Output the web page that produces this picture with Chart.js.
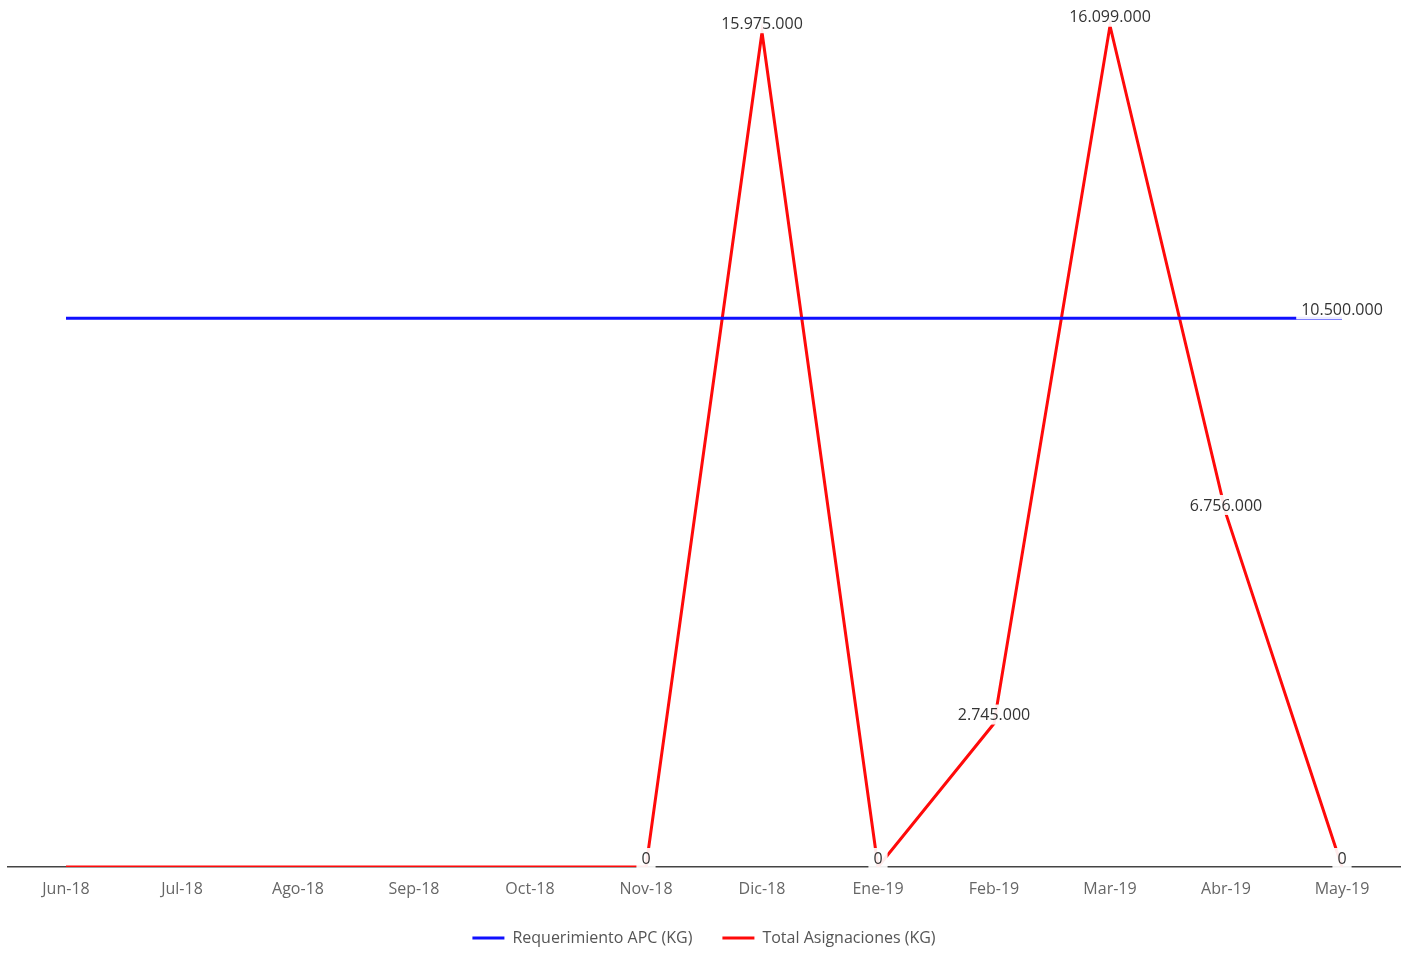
<!DOCTYPE html>
<html>
<head>
<meta charset="utf-8">
<script src="https://cdn.jsdelivr.net/npm/chart.js@4/dist/chart.umd.min.js"></script>
<style>
  html, body { margin: 0; padding: 0; background: #fff; }
  #wrap { width: 1408px; height: 955px; position: relative; }
</style>
</head>
<body>
<div id="wrap"><canvas id="c"></canvas></div>
<script>
const categories = ['Jun-18','Jul-18','Ago-18','Sep-18','Oct-18','Nov-18','Dic-18','Ene-19','Feb-19','Mar-19','Abr-19','May-19'];
const requerimiento = [10500000,10500000,10500000,10500000,10500000,10500000,10500000,10500000,10500000,10500000,10500000,10500000];
const asignaciones = [0,0,0,0,0,0,15975000,0,2745000,16099000,6756000,0];
const requerimientoLabelIdx = [11];
const asignacionesLabelIdx = [5,6,7,8,9,10,11];
const seriesNames = ['Requerimiento APC (KG)', 'Total Asignaciones (KG)'];
const yMax = 16400000;

const FONT = "'Open Sans', sans-serif";
function fmt(v) { return String(v).replace(/\B(?=(\d{3})+(?!\d))/g, '.'); }

const labelPlugin = {
  id: 'pointLabels',
  afterDatasetsDraw(chart) {
    const ctx = chart.ctx;
    ctx.save();
    ctx.font = '16px ' + FONT;
    ctx.textAlign = 'center';
    ctx.textBaseline = 'middle';
    chart.data.datasets.forEach((ds, di) => {
      const meta = chart.getDatasetMeta(di);
      const idxs = ds.labelIdx || [];
      idxs.forEach(i => {
        const pt = meta.data[i];
        const txt = fmt(ds.data[i]);
        const w = ctx.measureText(txt).width;
        const cx = pt.x, cy = pt.y - 9;
        ctx.fillStyle = 'rgba(255,255,255,0.92)';
        ctx.fillRect(cx - w / 2 - 5, cy - 10, w + 10, 20);
        ctx.fillStyle = '#333';
        ctx.fillText(txt, cx, cy + 1);
      });
    });
    ctx.restore();
  }
};

new Chart(document.getElementById('c'), {
  type: 'line',
  data: {
    labels: categories,
    datasets: [
      { label: seriesNames[0], data: requerimiento, labelIdx: requerimientoLabelIdx,
        borderColor: '#1010ff', backgroundColor: '#1010ff', borderWidth: 3,
        pointRadius: 0, pointHoverRadius: 0, tension: 0, fill: false },
      { label: seriesNames[1], data: asignaciones, labelIdx: asignacionesLabelIdx,
        borderColor: '#ff0a0a', backgroundColor: '#ff0a0a', borderWidth: 3,
        pointRadius: 0, pointHoverRadius: 0, tension: 0, fill: false }
    ]
  },
  options: {
    responsive: true,
    maintainAspectRatio: false,
    animation: false,
    layout: { padding: { left: 8, right: 8, top: 10, bottom: -1 } },
    scales: {
      x: {
        offset: true,
        grid: { display: false, drawTicks: false },
        border: { display: true, color: '#444', width: 1.5 },
        ticks: { color: '#666', font: { family: FONT, size: 16 }, padding: 13, maxRotation: 0, autoSkip: false },
        afterFit(scale) { scale.height = 33; }
      },
      y: {
        display: false,
        min: 0,
        max: yMax
      }
    },
    plugins: {
      legend: {
        position: 'bottom',
        labels: {
          color: '#555',
          font: { family: FONT, size: 16 },
          boxWidth: 32,
          boxHeight: 3,
          padding: 30,
          generateLabels(chart) {
            return chart.data.datasets.map((ds, i) => ({
              text: ds.label, fillStyle: ds.borderColor, strokeStyle: ds.borderColor,
              lineWidth: 0, hidden: false, datasetIndex: i, fontColor: '#555'
            }));
          }
        }
      },
      tooltip: { enabled: false }
    }
  },
  plugins: [labelPlugin]
});
</script>
</body>
</html>
